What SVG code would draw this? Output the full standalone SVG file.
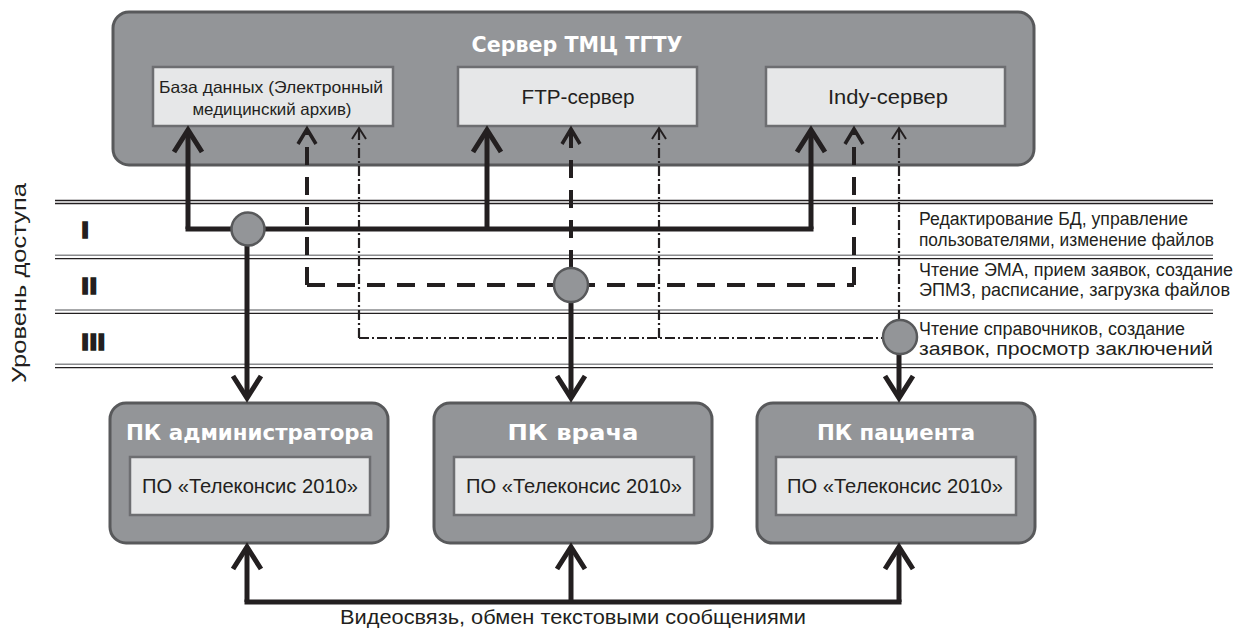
<svg xmlns="http://www.w3.org/2000/svg" width="1237" height="628" viewBox="0 0 1237 628">
<style>
.box{fill:#939598;stroke:#58595b;stroke-width:3}
.inner{fill:#e6e7e8;stroke:#6d6e71;stroke-width:2.5}
.title{font-family:"DejaVu Sans",sans-serif;font-weight:bold;fill:#ffffff;text-anchor:middle}
.t{font-family:"Liberation Sans",Arial,sans-serif;fill:#231f20}
.c{text-anchor:middle}
.lvl{font-family:"DejaVu Sans",sans-serif;font-weight:bold;font-size:22px;fill:#231f20;stroke:#231f20;stroke-width:1.6}
.s{fill:none;stroke:#231f20;stroke-width:5}
.d{fill:none;stroke:#231f20;stroke-width:4;stroke-dasharray:18 12}
.dd{fill:none;stroke:#231f20;stroke-width:2.2;stroke-dasharray:10 3 2 3}
.hub{fill:#939598;stroke:#58595b;stroke-width:2.5}
.lk{stroke:#231f20;stroke-width:1.3}
.lg{stroke:#8a8b8e;stroke-width:1.6}
</style>
<defs>
<marker id="aL" markerUnits="userSpaceOnUse" orient="auto" markerWidth="40" markerHeight="40" viewBox="-30 -20 40 40" refX="0" refY="0" overflow="visible"><path d="M-22 -14 L0 0 L-22 14" fill="none" stroke="#231f20" stroke-width="5"/></marker>
<marker id="aM" markerUnits="userSpaceOnUse" orient="auto" markerWidth="30" markerHeight="30" viewBox="-20 -15 30 30" refX="0" refY="0" overflow="visible"><path d="M-15 -9 L0 0 L-15 9" fill="none" stroke="#231f20" stroke-width="3.5"/></marker>
<marker id="aS" markerUnits="userSpaceOnUse" orient="auto" markerWidth="20" markerHeight="20" viewBox="-15 -10 20 20" refX="0" refY="0" overflow="visible"><path d="M-11 -7 L0 0 L-11 7" fill="none" stroke="#231f20" stroke-width="2"/></marker>
</defs>
<rect width="1237" height="628" fill="#ffffff"/>

<g id="levels">
<line class="lk" x1="55" y1="200.5" x2="1213" y2="200.5"/>
<line class="lk" x1="55" y1="203.5" x2="1213" y2="203.5"/>
<line class="lg" x1="55" y1="255.3" x2="1213" y2="255.3"/>
<line class="lk" x1="55" y1="258.7" x2="1213" y2="258.7"/>
<line class="lg" x1="55" y1="310" x2="1213" y2="310"/>
<line class="lk" x1="55" y1="313.3" x2="1213" y2="313.3"/>
<line class="lg" x1="55" y1="364.3" x2="1213" y2="364.3"/>
<line class="lk" x1="55" y1="367.7" x2="1213" y2="367.7"/>
<text class="t" font-size="21" textLength="200" lengthAdjust="spacingAndGlyphs" transform="translate(26 283) rotate(-90)" text-anchor="middle">Уровень доступа</text>
<text class="lvl" x="81" y="238">I</text>
<text class="lvl" x="81" y="294">II</text>
<text class="lvl" x="81" y="350">III</text>
<text class="t" font-size="18" x="919" y="225" textLength="269" lengthAdjust="spacingAndGlyphs">Редактирование БД, управление</text>
<text class="t" font-size="18" x="919" y="246" textLength="295" lengthAdjust="spacingAndGlyphs">пользователями, изменение файлов</text>
<text class="t" font-size="18" x="919" y="276" textLength="314" lengthAdjust="spacingAndGlyphs">Чтение ЭМА, прием заявок, создание</text>
<text class="t" font-size="18" x="919" y="296" textLength="311" lengthAdjust="spacingAndGlyphs">ЭПМЗ, расписание, загрузка файлов</text>
<text class="t" font-size="18" x="919" y="335" textLength="266" lengthAdjust="spacingAndGlyphs">Чтение справочников, создание</text>
<text class="t" font-size="18" x="919" y="355" textLength="294" lengthAdjust="spacingAndGlyphs">заявок, просмотр заключений</text>
</g>

<g id="server">
<rect class="box" x="113" y="12" width="921" height="153" rx="16"/>
<text class="title" x="577" y="52" font-size="22" textLength="211" lengthAdjust="spacingAndGlyphs">Сервер ТМЦ ТГТУ</text>
</g>
<g id="db">
<rect class="inner" x="153" y="67" width="240" height="59"/>
<text class="t c" x="271" y="93" font-size="16.5" textLength="224" lengthAdjust="spacingAndGlyphs">База данных (Электронный</text>
<text class="t c" x="272" y="115" font-size="16.5" textLength="159" lengthAdjust="spacingAndGlyphs">медицинский архив)</text>
</g>
<g id="ftp">
<rect class="inner" x="458" y="67" width="239" height="59"/>
<text class="t c" x="578" y="104" font-size="21" textLength="113" lengthAdjust="spacingAndGlyphs">FTP-сервер</text>
</g>
<g id="indy">
<rect class="inner" x="766" y="67" width="239" height="59"/>
<text class="t c" x="888" y="104" font-size="21" textLength="120" lengthAdjust="spacingAndGlyphs">Indy-сервер</text>
</g>

<g id="pc-admin">
<rect class="box" x="110" y="403" width="278" height="140" rx="16"/>
<text class="title" x="250" y="440" font-size="21.5" textLength="248" lengthAdjust="spacingAndGlyphs">ПК администратора</text>
<rect class="inner" x="130" y="457" width="240" height="58"/>
<text class="t c" x="250" y="493" font-size="19.5" textLength="216" lengthAdjust="spacingAndGlyphs">ПО «Телеконсис 2010»</text>
</g>
<g id="pc-doctor">
<rect class="box" x="434" y="403" width="278" height="140" rx="16"/>
<text class="title" x="573" y="440" font-size="21.5" textLength="131" lengthAdjust="spacingAndGlyphs">ПК врача</text>
<rect class="inner" x="454" y="457" width="240" height="58"/>
<text class="t c" x="574" y="493" font-size="19.5" textLength="216" lengthAdjust="spacingAndGlyphs">ПО «Телеконсис 2010»</text>
</g>
<g id="pc-patient">
<rect class="box" x="757" y="403" width="278" height="140" rx="16"/>
<text class="title" x="896" y="440" font-size="21.5" textLength="158" lengthAdjust="spacingAndGlyphs">ПК пациента</text>
<rect class="inner" x="776" y="457" width="240" height="58"/>
<text class="t c" x="895" y="493" font-size="19.5" textLength="216" lengthAdjust="spacingAndGlyphs">ПО «Телеконсис 2010»</text>
</g>

<g id="connectors">
<path class="s" d="M188 229 V130" marker-end="url(#aL)"/>
<path class="s" d="M487 229 V130" marker-end="url(#aL)"/>
<path class="s" d="M811 229 V130" marker-end="url(#aL)"/>
<path class="s" d="M188 229 H811" stroke-linecap="square"/>
<path class="d" d="M307 285 V129" marker-end="url(#aM)"/>
<path class="d" d="M571 268 V129" marker-end="url(#aM)"/>
<path class="d" d="M854 285 V129" marker-end="url(#aM)"/>
<path class="d" d="M307 285 H854"/>
<path class="dd" d="M359 338 V128" marker-end="url(#aS)"/>
<path class="dd" d="M659 338 V128" marker-end="url(#aS)"/>
<path class="dd" d="M899 320 V128" marker-end="url(#aS)"/>
<path class="dd" d="M359 338 H883"/>
<path class="s" d="M247 246 V398" marker-end="url(#aL)"/>
<path class="s" d="M571 302 V398" marker-end="url(#aL)"/>
<path class="s" d="M899 354 V398" marker-end="url(#aL)"/>
<circle class="hub" cx="248" cy="229" r="16.5"/>
<circle class="hub" cx="571" cy="285" r="17"/>
<circle class="hub" cx="900" cy="337" r="17"/>
<path class="s" d="M247 602 H899" stroke-linecap="square"/>
<path class="s" d="M247 602 V547" marker-end="url(#aL)"/>
<path class="s" d="M571 602 V547" marker-end="url(#aL)"/>
<path class="s" d="M899 602 V547" marker-end="url(#aL)"/>
<text class="t c" x="573" y="624" font-size="20.5" textLength="466" lengthAdjust="spacingAndGlyphs">Видеосвязь, обмен текстовыми сообщениями</text>
</g>
</svg>
